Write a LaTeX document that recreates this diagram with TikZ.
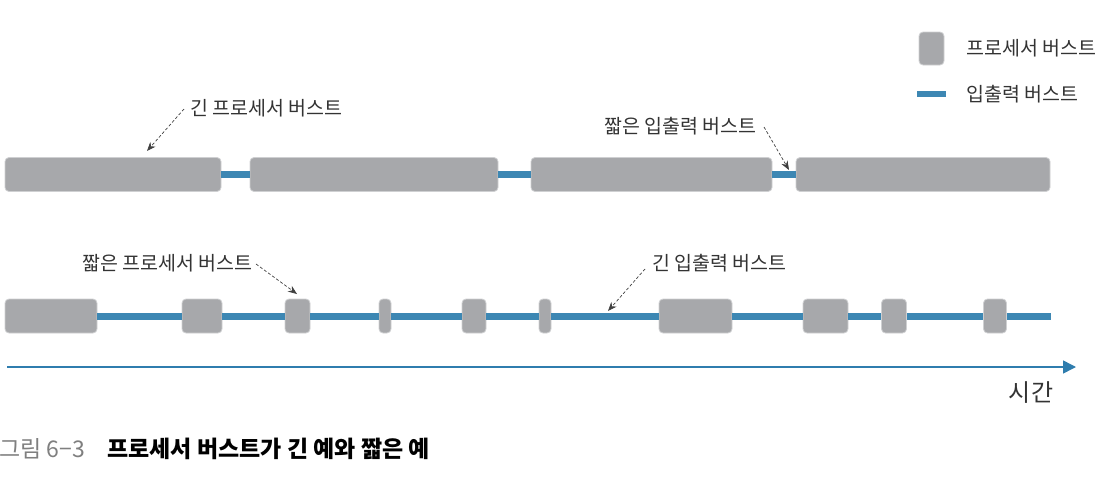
\documentclass[tikz,border=0pt]{standalone}
\usepackage{fontspec}
\setmainfont{Noto Sans CJK KR}
\usetikzlibrary{arrows.meta}
\definecolor{barg}{HTML}{A7A8AB}
\definecolor{barb}{HTML}{CFD0D2}
\definecolor{iob}{HTML}{3D87B3}
\definecolor{axb}{HTML}{2F7DAE}
\definecolor{txt}{HTML}{333333}
\definecolor{capg}{HTML}{7F7F7F}
\tikzset{
  bar/.style={fill=barg, draw=barb, line width=0.8pt, rounded corners=4pt, inner sep=0pt, minimum height=34pt},
  ioline/.style={draw=iob, line width=7pt},
  lbl/.style={font=\fontsize{19.5pt}{22pt}\selectfont, text=txt, anchor=west, inner sep=0pt},
  callout/.style={draw=black!75, line width=0.7pt, dash pattern=on 3pt off 2pt, -{Stealth[length=9pt,width=7pt]}},
}
\begin{document}
\begin{tikzpicture}[x=1pt,y=-1pt]
\useasboundingbox (0,0) rectangle (1114,490);
% top row
\node[bar, minimum width=216pt] (t1) at (113,174.5) {};
\node[bar, minimum width=248pt] (t2) at (374,174.5) {};
\node[bar, minimum width=241pt] (t3) at (651.5,174.5) {};
\node[bar, minimum width=254pt] (t4) at (923,174.5) {};
\draw[ioline] (t1.east) -- (t2.west);
\draw[ioline] (t2.east) -- (t3.west);
\draw[ioline] (t3.east) -- (t4.west);
% bottom row
\node[bar, minimum width=92pt] (b1) at (51,316) {};
\node[bar, minimum width=40pt] (b2) at (202,316) {};
\node[bar, minimum width=25pt] (b3) at (297.5,316) {};
\node[bar, minimum width=12pt] (b4) at (385,316) {};
\node[bar, minimum width=24pt] (b5) at (474,316) {};
\node[bar, minimum width=12pt] (b6) at (545,316) {};
\node[bar, minimum width=73pt] (b7) at (695.5,316) {};
\node[bar, minimum width=45pt] (b8) at (825.5,316) {};
\node[bar, minimum width=25pt] (b9) at (894,316) {};
\node[bar, minimum width=23pt] (b10) at (995,316) {};
\coordinate (bend) at (1051,316);
\draw[ioline] (b1.east) -- (b2.west);
\draw[ioline] (b2.east) -- (b3.west);
\draw[ioline] (b3.east) -- (b4.west);
\draw[ioline] (b4.east) -- (b5.west);
\draw[ioline] (b5.east) -- (b6.west);
\draw[ioline] (b6.east) -- (b7.west);
\draw[ioline] (b7.east) -- (b8.west);
\draw[ioline] (b8.east) -- (b9.west);
\draw[ioline] (b9.east) -- (b10.west);
\draw[ioline] (b10.east) -- (bend);
% labels and callouts
\node[lbl] (l1) at (190,108) {긴 프로세서 버스트};
\coordinate (l1s) at (184,109);
\coordinate (l1e) at (147,151);
\draw[callout] (l1s) -- (l1e);
\node[lbl] (l2) at (604,126) {짧은 입출력 버스트};
\coordinate (l2s) at (764,127);
\coordinate (l2e) at (789,170);
\draw[callout] (l2s) -- (l2e);
\node[lbl] (l3) at (82,263) {짧은 프로세서 버스트};
\coordinate (l3s) at (256,264);
\coordinate (l3e) at (297,294);
\draw[callout] (l3s) -- (l3e);
\node[lbl] (l4) at (652,263) {긴 입출력 버스트};
\coordinate (l4s) at (645,269);
\coordinate (l4e) at (608,311);
\draw[callout] (l4s) -- (l4e);
% legend
\node[bar, minimum width=25pt, minimum height=33pt] (lg1) at (931.5,48.5) {};
\node[lbl] (lt1) at (966,48) {프로세서 버스트};
\coordinate (lg2a) at (917,94);
\coordinate (lg2b) at (946,94);
\draw[draw=iob, line width=6pt] (lg2a) -- (lg2b);
\node[lbl] (lt2) at (966,94) {입출력 버스트};
% time axis
\coordinate (ax0) at (7,367);
\coordinate (ax1) at (1076,367);
\draw[draw=axb, line width=1.5pt, -{Triangle[length=13pt,width=13pt]}] (ax0) -- (ax1);
\node[font=\fontsize{24pt}{26pt}\selectfont, text=txt, inner sep=0pt] (time) at (1031,393) {시간};
% caption
\node[anchor=west, inner sep=0pt, font=\fontsize{23pt}{26pt}\selectfont, text=capg] (cap1) at (-1,449) {그림 6−3};
\node[anchor=west, inner sep=0pt, font=\fontsize{23pt}{26pt}\selectfont\bfseries, text=black] (cap2) at (107,449) {프로세서 버스트가 긴 예와 짧은 예};
\end{tikzpicture}
\end{document}
